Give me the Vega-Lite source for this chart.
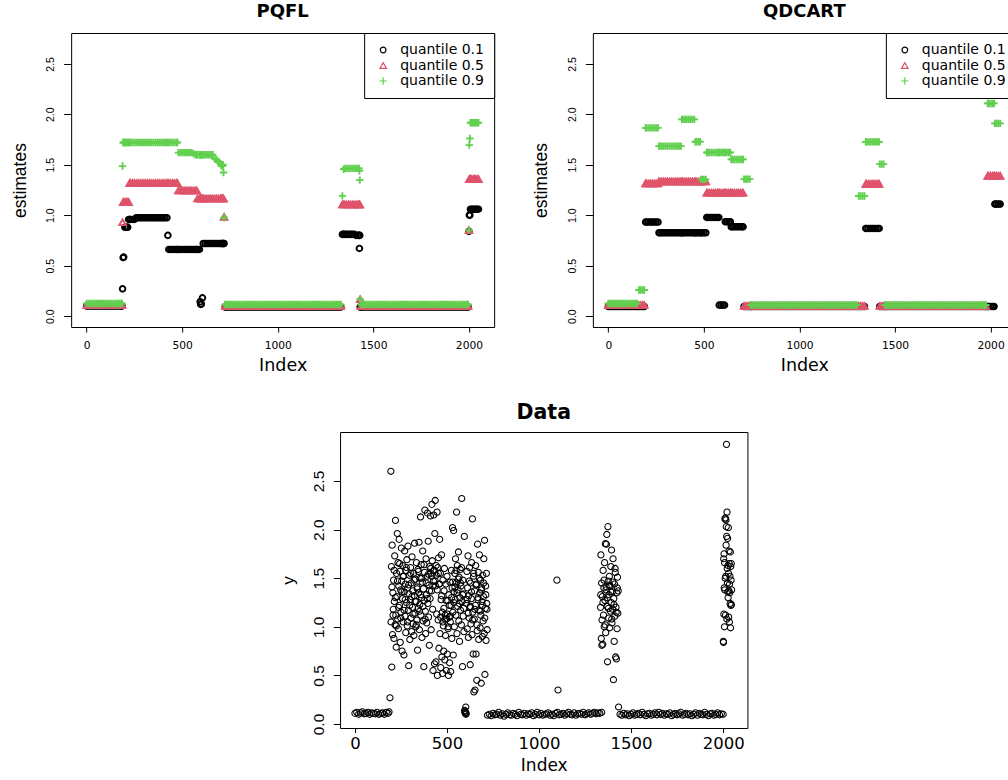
{
"$schema":"https://vega.github.io/schema/vega-lite/v6.json",
"background":"white",
"padding":{"left":10,"top":2,"right":-7,"bottom":0},
"config":{"view":{"stroke":"black","strokeWidth":1},"axis":{"domain":false,"grid":false,"tickColor":"black","labelColor":"black","titleColor":"black","titleFontWeight":"normal","labelFlush":false,"labelOverlap":false,"labelBound":false,"tickWidth":1}},
"datasets":{
"P":[{"x":0,"a":0.1,"b":0.11,"c":0.125},{"x":10,"a":0.1,"b":0.11,"c":0.125},{"x":20,"a":0.1,"b":0.11,"c":0.125},{"x":30,"a":0.1,"b":0.11,"c":0.125},{"x":40,"a":0.1,"b":0.11,"c":0.125},{"x":50,"a":0.1,"b":0.11,"c":0.125},{"x":60,"a":0.1,"b":0.11,"c":0.125},{"x":70,"a":0.1,"b":0.11,"c":0.125},{"x":80,"a":0.1,"b":0.11,"c":0.125},{"x":90,"a":0.1,"b":0.11,"c":0.125},{"x":100,"a":0.1,"b":0.11,"c":0.125},{"x":110,"a":0.1,"b":0.11,"c":0.125},{"x":120,"a":0.1,"b":0.11,"c":0.125},{"x":130,"a":0.1,"b":0.11,"c":0.125},{"x":140,"a":0.1,"b":0.11,"c":0.125},{"x":150,"a":0.1,"b":0.11,"c":0.125},{"x":160,"a":0.1,"b":0.11,"c":0.125},{"x":170,"a":0.1,"b":0.11,"c":0.125},{"x":180,"a":0.1,"b":0.11,"c":0.125},{"x":185,"a":0.1,"b":0.11,"c":0.125},
{"x":188,"a":0.27,"b":0.93,"c":1.487},{"x":191,"a":0.58,"b":1.13,"c":1.72},{"x":194,"a":0.585,"b":1.13,"c":1.72},{"x":200,"a":0.88,"b":1.13,"c":1.72},{"x":205,"a":0.88,"b":1.13,"c":1.72},{"x":210,"a":0.88,"b":1.13,"c":1.72},{"x":215,"a":0.88,"b":1.13,"c":1.72},{"x":220,"a":0.958,"b":1.13,"c":1.72},{"x":225,"a":0.958,"b":1.318,"c":1.72},{"x":230,"a":0.958,"b":1.318,"c":1.72},{"x":240,"a":0.958,"b":1.318,"c":1.72},{"x":250,"a":0.958,"b":1.318,"c":1.72},
{"x":260,"a":0.975,"b":1.318,"c":1.72},{"x":270,"a":0.975,"b":1.318,"c":1.72},{"x":280,"a":0.975,"b":1.318,"c":1.72},{"x":290,"a":0.975,"b":1.318,"c":1.72},{"x":300,"a":0.975,"b":1.318,"c":1.72},{"x":310,"a":0.975,"b":1.318,"c":1.72},{"x":320,"a":0.975,"b":1.318,"c":1.72},{"x":330,"a":0.975,"b":1.318,"c":1.72},{"x":340,"a":0.975,"b":1.318,"c":1.72},{"x":350,"a":0.975,"b":1.318,"c":1.72},{"x":360,"a":0.975,"b":1.318,"c":1.72},{"x":370,"a":0.975,"b":1.318,"c":1.72},{"x":380,"a":0.975,"b":1.318,"c":1.72},{"x":390,"a":0.975,"b":1.318,"c":1.72},{"x":400,"a":0.975,"b":1.318,"c":1.72},{"x":410,"a":0.975,"b":1.318,"c":1.72},{"x":420,"a":0.975,"b":1.318,"c":1.72},
{"x":425,"a":0.8,"b":1.318,"c":1.72},{"x":430,"a":0.661,"b":1.318,"c":1.72},{"x":440,"a":0.661,"b":1.318,"c":1.72},{"x":450,"a":0.661,"b":1.318,"c":1.72},{"x":460,"a":0.661,"b":1.318,"c":1.72},{"x":470,"a":0.661,"b":1.318,"c":1.72},{"x":475,"a":0.661,"b":1.318,"c":1.72},
{"x":480,"a":0.661,"b":1.245,"c":1.62},{"x":490,"a":0.661,"b":1.245,"c":1.62},{"x":500,"a":0.661,"b":1.245,"c":1.62},{"x":510,"a":0.661,"b":1.245,"c":1.62},{"x":520,"a":0.661,"b":1.245,"c":1.62},{"x":530,"a":0.661,"b":1.245,"c":1.62},{"x":540,"a":0.661,"b":1.245,"c":1.62},{"x":550,"a":0.661,"b":1.245,"c":1.62},{"x":560,"a":0.661,"b":1.245,"c":1.61},{"x":570,"a":0.661,"b":1.245,"c":1.6},{"x":576,"a":0.661,"b":1.245,"c":1.6},{"x":580,"a":0.661,"b":1.166,"c":1.6},{"x":590,"a":0.661,"b":1.166,"c":1.6},
{"x":594,"a":0.142,"b":1.166,"c":1.6},{"x":597,"a":0.116,"b":1.166,"c":1.6},{"x":600,"a":0.12,"b":1.166,"c":1.6},{"x":606,"a":0.181,"b":1.166,"c":1.6},
{"x":610,"a":0.72,"b":1.166,"c":1.6},{"x":620,"a":0.72,"b":1.166,"c":1.6},{"x":630,"a":0.72,"b":1.166,"c":1.6},{"x":640,"a":0.72,"b":1.166,"c":1.6},{"x":650,"a":0.72,"b":1.166,"c":1.6},{"x":660,"a":0.72,"b":1.166,"c":1.6},{"x":670,"a":0.72,"b":1.166,"c":1.56},{"x":680,"a":0.72,"b":1.166,"c":1.55},{"x":690,"a":0.72,"b":1.166,"c":1.53},{"x":700,"a":0.72,"b":1.166,"c":1.51},{"x":705,"a":0.72,"b":1.166,"c":1.49},{"x":710,"a":0.72,"b":1.166,"c":1.487},{"x":714,"a":0.72,"b":1.166,"c":1.5},{"x":716,"a":0.72,"b":1.166,"c":1.424},{"x":719,"a":0.72,"b":0.984,"c":0.975},
{"x":725,"a":0.09,"b":0.1,"c":0.115},{"x":730,"a":0.09,"b":0.1,"c":0.115},{"x":740,"a":0.09,"b":0.1,"c":0.115},{"x":750,"a":0.09,"b":0.1,"c":0.115},{"x":760,"a":0.09,"b":0.1,"c":0.115},{"x":770,"a":0.09,"b":0.1,"c":0.115},{"x":780,"a":0.09,"b":0.1,"c":0.115},{"x":790,"a":0.09,"b":0.1,"c":0.115},{"x":800,"a":0.09,"b":0.1,"c":0.115},{"x":810,"a":0.09,"b":0.1,"c":0.115},{"x":820,"a":0.09,"b":0.1,"c":0.115},{"x":830,"a":0.09,"b":0.1,"c":0.115},{"x":840,"a":0.09,"b":0.1,"c":0.115},{"x":850,"a":0.09,"b":0.1,"c":0.115},{"x":860,"a":0.09,"b":0.1,"c":0.115},{"x":870,"a":0.09,"b":0.1,"c":0.115},{"x":880,"a":0.09,"b":0.1,"c":0.115},{"x":890,"a":0.09,"b":0.1,"c":0.115},{"x":900,"a":0.09,"b":0.1,"c":0.115},{"x":910,"a":0.09,"b":0.1,"c":0.115},{"x":920,"a":0.09,"b":0.1,"c":0.115},{"x":930,"a":0.09,"b":0.1,"c":0.115},{"x":940,"a":0.09,"b":0.1,"c":0.115},{"x":950,"a":0.09,"b":0.1,"c":0.115},{"x":960,"a":0.09,"b":0.1,"c":0.115},{"x":970,"a":0.09,"b":0.1,"c":0.115},{"x":980,"a":0.09,"b":0.1,"c":0.115},{"x":990,"a":0.09,"b":0.1,"c":0.115},{"x":1000,"a":0.09,"b":0.1,"c":0.115},{"x":1010,"a":0.09,"b":0.1,"c":0.115},{"x":1020,"a":0.09,"b":0.1,"c":0.115},{"x":1030,"a":0.09,"b":0.1,"c":0.115},{"x":1040,"a":0.09,"b":0.1,"c":0.115},{"x":1050,"a":0.09,"b":0.1,"c":0.115},{"x":1060,"a":0.09,"b":0.1,"c":0.115},{"x":1070,"a":0.09,"b":0.1,"c":0.115},{"x":1080,"a":0.09,"b":0.1,"c":0.115},{"x":1090,"a":0.09,"b":0.1,"c":0.115},{"x":1100,"a":0.09,"b":0.1,"c":0.115},{"x":1110,"a":0.09,"b":0.1,"c":0.115},{"x":1120,"a":0.09,"b":0.1,"c":0.115},{"x":1130,"a":0.09,"b":0.1,"c":0.115},{"x":1140,"a":0.09,"b":0.1,"c":0.115},{"x":1150,"a":0.09,"b":0.1,"c":0.115},{"x":1160,"a":0.09,"b":0.1,"c":0.115},{"x":1170,"a":0.09,"b":0.1,"c":0.115},{"x":1180,"a":0.09,"b":0.1,"c":0.115},{"x":1190,"a":0.09,"b":0.1,"c":0.115},{"x":1200,"a":0.09,"b":0.1,"c":0.115},{"x":1210,"a":0.09,"b":0.1,"c":0.115},{"x":1220,"a":0.09,"b":0.1,"c":0.115},{"x":1230,"a":0.09,"b":0.1,"c":0.115},{"x":1240,"a":0.09,"b":0.1,"c":0.115},{"x":1250,"a":0.09,"b":0.1,"c":0.115},{"x":1260,"a":0.09,"b":0.1,"c":0.115},{"x":1270,"a":0.09,"b":0.1,"c":0.115},{"x":1280,"a":0.09,"b":0.1,"c":0.115},{"x":1290,"a":0.09,"b":0.1,"c":0.115},{"x":1300,"a":0.09,"b":0.1,"c":0.115},{"x":1310,"a":0.09,"b":0.1,"c":0.115},{"x":1320,"a":0.09,"b":0.1,"c":0.115},{"x":1330,"a":0.09,"b":0.1,"c":0.115},
{"x":1338,"a":0.81,"b":1.107,"c":1.192},{"x":1345,"a":0.81,"b":1.107,"c":1.455},{"x":1350,"a":0.81,"b":1.107,"c":1.464},{"x":1360,"a":0.81,"b":1.107,"c":1.464},{"x":1370,"a":0.81,"b":1.107,"c":1.464},{"x":1380,"a":0.81,"b":1.107,"c":1.464},{"x":1390,"a":0.81,"b":1.107,"c":1.464},{"x":1400,"a":0.81,"b":1.107,"c":1.464},{"x":1410,"a":0.8,"b":1.107,"c":1.464},{"x":1420,"a":0.8,"b":1.107,"c":1.464},{"x":1425,"a":0.8,"b":1.107,"c":1.464},{"x":1427,"a":0.671,"b":1.107,"c":1.44},{"x":1429,"a":0.8,"b":1.107,"c":1.348},{"x":1431,"a":0.09,"b":0.168,"c":0.168},
{"x":1436,"a":0.09,"b":0.1,"c":0.115},{"x":1440,"a":0.09,"b":0.1,"c":0.115},{"x":1450,"a":0.09,"b":0.1,"c":0.115},{"x":1460,"a":0.09,"b":0.1,"c":0.115},{"x":1470,"a":0.09,"b":0.1,"c":0.115},{"x":1480,"a":0.09,"b":0.1,"c":0.115},{"x":1490,"a":0.09,"b":0.1,"c":0.115},{"x":1500,"a":0.09,"b":0.1,"c":0.115},{"x":1510,"a":0.09,"b":0.1,"c":0.115},{"x":1520,"a":0.09,"b":0.1,"c":0.115},{"x":1530,"a":0.09,"b":0.1,"c":0.115},{"x":1540,"a":0.09,"b":0.1,"c":0.115},{"x":1550,"a":0.09,"b":0.1,"c":0.115},{"x":1560,"a":0.09,"b":0.1,"c":0.115},{"x":1570,"a":0.09,"b":0.1,"c":0.115},{"x":1580,"a":0.09,"b":0.1,"c":0.115},{"x":1590,"a":0.09,"b":0.1,"c":0.115},{"x":1600,"a":0.09,"b":0.1,"c":0.115},{"x":1610,"a":0.09,"b":0.1,"c":0.115},{"x":1620,"a":0.09,"b":0.1,"c":0.115},{"x":1630,"a":0.09,"b":0.1,"c":0.115},{"x":1640,"a":0.09,"b":0.1,"c":0.115},{"x":1650,"a":0.09,"b":0.1,"c":0.115},{"x":1660,"a":0.09,"b":0.1,"c":0.115},{"x":1670,"a":0.09,"b":0.1,"c":0.115},{"x":1680,"a":0.09,"b":0.1,"c":0.115},{"x":1690,"a":0.09,"b":0.1,"c":0.115},{"x":1700,"a":0.09,"b":0.1,"c":0.115},{"x":1710,"a":0.09,"b":0.1,"c":0.115},{"x":1720,"a":0.09,"b":0.1,"c":0.115},{"x":1730,"a":0.09,"b":0.1,"c":0.115},{"x":1740,"a":0.09,"b":0.1,"c":0.115},{"x":1750,"a":0.09,"b":0.1,"c":0.115},{"x":1760,"a":0.09,"b":0.1,"c":0.115},{"x":1770,"a":0.09,"b":0.1,"c":0.115},{"x":1780,"a":0.09,"b":0.1,"c":0.115},{"x":1790,"a":0.09,"b":0.1,"c":0.115},{"x":1800,"a":0.09,"b":0.1,"c":0.115},{"x":1810,"a":0.09,"b":0.1,"c":0.115},{"x":1820,"a":0.09,"b":0.1,"c":0.115},{"x":1830,"a":0.09,"b":0.1,"c":0.115},{"x":1840,"a":0.09,"b":0.1,"c":0.115},{"x":1850,"a":0.09,"b":0.1,"c":0.115},{"x":1860,"a":0.09,"b":0.1,"c":0.115},{"x":1870,"a":0.09,"b":0.1,"c":0.115},{"x":1880,"a":0.09,"b":0.1,"c":0.115},{"x":1890,"a":0.09,"b":0.1,"c":0.115},{"x":1900,"a":0.09,"b":0.1,"c":0.115},{"x":1910,"a":0.09,"b":0.1,"c":0.115},{"x":1920,"a":0.09,"b":0.1,"c":0.115},{"x":1930,"a":0.09,"b":0.1,"c":0.115},{"x":1940,"a":0.09,"b":0.1,"c":0.115},{"x":1950,"a":0.09,"b":0.1,"c":0.115},{"x":1960,"a":0.09,"b":0.1,"c":0.115},{"x":1970,"a":0.09,"b":0.1,"c":0.115},{"x":1980,"a":0.09,"b":0.1,"c":0.115},{"x":1990,"a":0.09,"b":0.1,"c":0.115},{"x":1996,"a":0.09,"b":0.1,"c":0.115},
{"x":2000,"a":0.84,"b":0.852,"c":0.852},{"x":2002,"a":1.001,"b":1.358,"c":1.695},{"x":2005,"a":1.001,"b":1.358,"c":1.761},{"x":2008,"a":1.06,"b":1.358,"c":1.916},{"x":2015,"a":1.06,"b":1.358,"c":1.916},{"x":2022,"a":1.06,"b":1.358,"c":1.916},{"x":2029,"a":1.06,"b":1.358,"c":1.916},{"x":2036,"a":1.06,"b":1.358,"c":1.916},{"x":2043,"a":1.06,"b":1.358,"c":1.916},{"x":2050,"a":1.06,"b":1.358,"c":1.916}],
"Q":[{"x":0,"a":0.095,"b":0.11,"c":0.125},{"x":10,"a":0.095,"b":0.11,"c":0.125},{"x":20,"a":0.095,"b":0.11,"c":0.125},{"x":30,"a":0.095,"b":0.11,"c":0.125},{"x":40,"a":0.095,"b":0.11,"c":0.125},{"x":50,"a":0.095,"b":0.11,"c":0.125},{"x":60,"a":0.095,"b":0.11,"c":0.125},{"x":70,"a":0.095,"b":0.11,"c":0.125},{"x":80,"a":0.095,"b":0.11,"c":0.125},{"x":90,"a":0.095,"b":0.11,"c":0.125},{"x":100,"a":0.095,"b":0.11,"c":0.125},{"x":110,"a":0.095,"b":0.11,"c":0.125},{"x":120,"a":0.095,"b":0.11,"c":0.125},{"x":130,"a":0.095,"b":0.11,"c":0.125},{"x":140,"a":0.095,"b":0.11,"c":0.125},{"x":150,"a":0.095,"b":0.11,"c":0.125},
{"x":160,"a":0.095,"b":0.11,"c":0.258},{"x":170,"a":0.095,"b":0.11,"c":0.258},{"x":180,"a":0.095,"b":0.11,"c":0.258},{"x":188,"a":0.095,"b":0.11,"c":0.258},
{"x":195,"a":0.932,"b":1.315,"c":1.866},{"x":200,"a":0.932,"b":1.315,"c":1.866},{"x":210,"a":0.932,"b":1.315,"c":1.866},{"x":220,"a":0.932,"b":1.315,"c":1.866},{"x":230,"a":0.932,"b":1.315,"c":1.866},{"x":240,"a":0.932,"b":1.315,"c":1.866},{"x":250,"a":0.932,"b":1.315,"c":1.866},{"x":260,"a":0.932,"b":1.315,"c":1.866},
{"x":265,"a":0.826,"b":1.335,"c":1.685},{"x":270,"a":0.826,"b":1.335,"c":1.685},{"x":280,"a":0.826,"b":1.335,"c":1.685},{"x":290,"a":0.826,"b":1.335,"c":1.685},{"x":300,"a":0.826,"b":1.335,"c":1.685},{"x":310,"a":0.826,"b":1.335,"c":1.685},{"x":320,"a":0.826,"b":1.335,"c":1.685},{"x":330,"a":0.826,"b":1.335,"c":1.685},{"x":340,"a":0.826,"b":1.335,"c":1.685},{"x":350,"a":0.826,"b":1.335,"c":1.685},{"x":360,"a":0.826,"b":1.335,"c":1.685},{"x":370,"a":0.826,"b":1.335,"c":1.685},{"x":380,"a":0.826,"b":1.335,"c":1.685},
{"x":385,"a":0.826,"b":1.335,"c":1.95},{"x":390,"a":0.826,"b":1.335,"c":1.95},{"x":400,"a":0.826,"b":1.335,"c":1.95},{"x":410,"a":0.826,"b":1.335,"c":1.95},{"x":420,"a":0.826,"b":1.335,"c":1.95},{"x":430,"a":0.826,"b":1.335,"c":1.95},{"x":440,"a":0.826,"b":1.335,"c":1.95},{"x":450,"a":0.826,"b":1.335,"c":1.95},
{"x":455,"a":0.826,"b":1.335,"c":1.728},{"x":460,"a":0.826,"b":1.335,"c":1.728},{"x":470,"a":0.826,"b":1.335,"c":1.728},{"x":480,"a":0.826,"b":1.335,"c":1.728},
{"x":485,"a":0.826,"b":1.335,"c":1.355},{"x":490,"a":0.826,"b":1.335,"c":1.355},{"x":500,"a":0.826,"b":1.335,"c":1.355},{"x":510,"a":0.826,"b":1.335,"c":1.355},
{"x":515,"a":0.978,"b":1.222,"c":1.622},{"x":520,"a":0.978,"b":1.222,"c":1.622},{"x":530,"a":0.978,"b":1.222,"c":1.622},{"x":540,"a":0.978,"b":1.222,"c":1.622},{"x":550,"a":0.978,"b":1.222,"c":1.622},{"x":560,"a":0.978,"b":1.222,"c":1.622},{"x":570,"a":0.978,"b":1.222,"c":1.622},{"x":578,"a":0.978,"b":1.222,"c":1.622},
{"x":580,"a":0.109,"b":1.222,"c":1.622},{"x":590,"a":0.109,"b":1.222,"c":1.622},{"x":600,"a":0.109,"b":1.222,"c":1.622},{"x":608,"a":0.109,"b":1.222,"c":1.622},
{"x":612,"a":0.935,"b":1.222,"c":1.622},{"x":620,"a":0.935,"b":1.222,"c":1.622},{"x":630,"a":0.935,"b":1.222,"c":1.622},{"x":638,"a":0.935,"b":1.222,"c":1.622},
{"x":643,"a":0.885,"b":1.222,"c":1.553},{"x":650,"a":0.885,"b":1.222,"c":1.553},{"x":660,"a":0.885,"b":1.222,"c":1.553},{"x":670,"a":0.885,"b":1.222,"c":1.553},{"x":680,"a":0.885,"b":1.222,"c":1.553},{"x":690,"a":0.885,"b":1.222,"c":1.553},{"x":700,"a":0.885,"b":1.222,"c":1.553},{"x":705,"a":0.885,"b":1.222,"c":1.553},
{"x":710,"a":0.095,"b":0.1,"c":1.358},{"x":720,"a":0.095,"b":0.1,"c":1.358},{"x":730,"a":0.095,"b":0.1,"c":1.358},{"x":740,"a":0.095,"b":0.1,"c":1.358},
{"x":745,"a":0.095,"b":0.1,"c":0.11},{"x":750,"a":0.095,"b":0.1,"c":0.11},{"x":760,"a":0.095,"b":0.1,"c":0.11},{"x":770,"a":0.095,"b":0.1,"c":0.11},{"x":780,"a":0.095,"b":0.1,"c":0.11},{"x":790,"a":0.095,"b":0.1,"c":0.11},{"x":800,"a":0.095,"b":0.1,"c":0.11},{"x":810,"a":0.095,"b":0.1,"c":0.11},{"x":820,"a":0.095,"b":0.1,"c":0.11},{"x":830,"a":0.095,"b":0.1,"c":0.11},{"x":840,"a":0.095,"b":0.1,"c":0.11},{"x":850,"a":0.095,"b":0.1,"c":0.11},{"x":860,"a":0.095,"b":0.1,"c":0.11},{"x":870,"a":0.095,"b":0.1,"c":0.11},{"x":880,"a":0.095,"b":0.1,"c":0.11},{"x":890,"a":0.095,"b":0.1,"c":0.11},{"x":900,"a":0.095,"b":0.1,"c":0.11},{"x":910,"a":0.095,"b":0.1,"c":0.11},{"x":920,"a":0.095,"b":0.1,"c":0.11},{"x":930,"a":0.095,"b":0.1,"c":0.11},{"x":940,"a":0.095,"b":0.1,"c":0.11},{"x":950,"a":0.095,"b":0.1,"c":0.11},{"x":960,"a":0.095,"b":0.1,"c":0.11},{"x":970,"a":0.095,"b":0.1,"c":0.11},{"x":980,"a":0.095,"b":0.1,"c":0.11},{"x":990,"a":0.095,"b":0.1,"c":0.11},{"x":1000,"a":0.095,"b":0.1,"c":0.11},{"x":1010,"a":0.095,"b":0.1,"c":0.11},{"x":1020,"a":0.095,"b":0.1,"c":0.11},{"x":1030,"a":0.095,"b":0.1,"c":0.11},{"x":1040,"a":0.095,"b":0.1,"c":0.11},{"x":1050,"a":0.095,"b":0.1,"c":0.11},{"x":1060,"a":0.095,"b":0.1,"c":0.11},{"x":1070,"a":0.095,"b":0.1,"c":0.11},{"x":1080,"a":0.095,"b":0.1,"c":0.11},{"x":1090,"a":0.095,"b":0.1,"c":0.11},{"x":1100,"a":0.095,"b":0.1,"c":0.11},{"x":1110,"a":0.095,"b":0.1,"c":0.11},{"x":1120,"a":0.095,"b":0.1,"c":0.11},{"x":1130,"a":0.095,"b":0.1,"c":0.11},{"x":1140,"a":0.095,"b":0.1,"c":0.11},{"x":1150,"a":0.095,"b":0.1,"c":0.11},{"x":1160,"a":0.095,"b":0.1,"c":0.11},{"x":1170,"a":0.095,"b":0.1,"c":0.11},{"x":1180,"a":0.095,"b":0.1,"c":0.11},{"x":1190,"a":0.095,"b":0.1,"c":0.11},{"x":1200,"a":0.095,"b":0.1,"c":0.11},{"x":1210,"a":0.095,"b":0.1,"c":0.11},{"x":1220,"a":0.095,"b":0.1,"c":0.11},{"x":1230,"a":0.095,"b":0.1,"c":0.11},{"x":1240,"a":0.095,"b":0.1,"c":0.11},{"x":1250,"a":0.095,"b":0.1,"c":0.11},{"x":1260,"a":0.095,"b":0.1,"c":0.11},{"x":1270,"a":0.095,"b":0.1,"c":0.11},{"x":1280,"a":0.095,"b":0.1,"c":0.11},{"x":1290,"a":0.095,"b":0.1,"c":0.11},{"x":1300,"a":0.095,"b":0.1,"c":0.11},
{"x":1310,"a":0.095,"b":0.1,"c":1.19},{"x":1320,"a":0.095,"b":0.1,"c":1.19},{"x":1330,"a":0.095,"b":0.1,"c":1.19},{"x":1340,"a":0.095,"b":0.1,"c":1.19},
{"x":1347,"a":0.869,"b":1.311,"c":1.727},{"x":1350,"a":0.869,"b":1.311,"c":1.727},{"x":1360,"a":0.869,"b":1.311,"c":1.727},{"x":1370,"a":0.869,"b":1.311,"c":1.727},{"x":1380,"a":0.869,"b":1.311,"c":1.727},{"x":1390,"a":0.869,"b":1.311,"c":1.727},{"x":1400,"a":0.869,"b":1.311,"c":1.727},{"x":1410,"a":0.869,"b":1.311,"c":1.727},{"x":1417,"a":0.869,"b":1.311,"c":1.727},
{"x":1420,"a":0.095,"b":0.1,"c":1.506},{"x":1430,"a":0.095,"b":0.1,"c":1.506},{"x":1440,"a":0.095,"b":0.1,"c":1.506},
{"x":1448,"a":0.095,"b":0.1,"c":0.11},{"x":1450,"a":0.095,"b":0.1,"c":0.11},{"x":1460,"a":0.095,"b":0.1,"c":0.11},{"x":1470,"a":0.095,"b":0.1,"c":0.11},{"x":1480,"a":0.095,"b":0.1,"c":0.11},{"x":1490,"a":0.095,"b":0.1,"c":0.11},{"x":1500,"a":0.095,"b":0.1,"c":0.11},{"x":1510,"a":0.095,"b":0.1,"c":0.11},{"x":1520,"a":0.095,"b":0.1,"c":0.11},{"x":1530,"a":0.095,"b":0.1,"c":0.11},{"x":1540,"a":0.095,"b":0.1,"c":0.11},{"x":1550,"a":0.095,"b":0.1,"c":0.11},{"x":1560,"a":0.095,"b":0.1,"c":0.11},{"x":1570,"a":0.095,"b":0.1,"c":0.11},{"x":1580,"a":0.095,"b":0.1,"c":0.11},{"x":1590,"a":0.095,"b":0.1,"c":0.11},{"x":1600,"a":0.095,"b":0.1,"c":0.11},{"x":1610,"a":0.095,"b":0.1,"c":0.11},{"x":1620,"a":0.095,"b":0.1,"c":0.11},{"x":1630,"a":0.095,"b":0.1,"c":0.11},{"x":1640,"a":0.095,"b":0.1,"c":0.11},{"x":1650,"a":0.095,"b":0.1,"c":0.11},{"x":1660,"a":0.095,"b":0.1,"c":0.11},{"x":1670,"a":0.095,"b":0.1,"c":0.11},{"x":1680,"a":0.095,"b":0.1,"c":0.11},{"x":1690,"a":0.095,"b":0.1,"c":0.11},{"x":1700,"a":0.095,"b":0.1,"c":0.11},{"x":1710,"a":0.095,"b":0.1,"c":0.11},{"x":1720,"a":0.095,"b":0.1,"c":0.11},{"x":1730,"a":0.095,"b":0.1,"c":0.11},{"x":1740,"a":0.095,"b":0.1,"c":0.11},{"x":1750,"a":0.095,"b":0.1,"c":0.11},{"x":1760,"a":0.095,"b":0.1,"c":0.11},{"x":1770,"a":0.095,"b":0.1,"c":0.11},{"x":1780,"a":0.095,"b":0.1,"c":0.11},{"x":1790,"a":0.095,"b":0.1,"c":0.11},{"x":1800,"a":0.095,"b":0.1,"c":0.11},{"x":1810,"a":0.095,"b":0.1,"c":0.11},{"x":1820,"a":0.095,"b":0.1,"c":0.11},{"x":1830,"a":0.095,"b":0.1,"c":0.11},{"x":1840,"a":0.095,"b":0.1,"c":0.11},{"x":1850,"a":0.095,"b":0.1,"c":0.11},{"x":1860,"a":0.095,"b":0.1,"c":0.11},{"x":1870,"a":0.095,"b":0.1,"c":0.11},{"x":1880,"a":0.095,"b":0.1,"c":0.11},{"x":1890,"a":0.095,"b":0.1,"c":0.11},{"x":1900,"a":0.095,"b":0.1,"c":0.11},{"x":1910,"a":0.095,"b":0.1,"c":0.11},{"x":1920,"a":0.095,"b":0.1,"c":0.11},{"x":1930,"a":0.095,"b":0.1,"c":0.11},{"x":1940,"a":0.095,"b":0.1,"c":0.11},{"x":1950,"a":0.095,"b":0.1,"c":0.11},{"x":1960,"a":0.095,"b":0.1,"c":0.11},{"x":1970,"a":0.095,"b":0.1,"c":0.11},{"x":1975,"a":0.095,"b":0.1,"c":0.11},
{"x":1985,"a":0.095,"b":1.39,"c":2.108},{"x":1990,"a":0.095,"b":1.39,"c":2.108},{"x":2000,"a":0.095,"b":1.39,"c":2.108},{"x":2010,"a":0.095,"b":1.39,"c":2.108},{"x":2018,"a":0.095,"b":1.39,"c":2.108},
{"x":2022,"a":1.11,"b":1.39,"c":1.91},{"x":2030,"a":1.11,"b":1.39,"c":1.91},{"x":2040,"a":1.11,"b":1.39,"c":1.91},{"x":2050,"a":1.11,"b":1.39,"c":1.91}],
"D":[{"x":0,"y":0.11},{"x":10,"y":0.12},{"x":20,"y":0.1},{"x":30,"y":0.115},{"x":40,"y":0.125},{"x":50,"y":0.105},{"x":60,"y":0.11},{"x":70,"y":0.12},{"x":80,"y":0.1},{"x":90,"y":0.115},{"x":100,"y":0.11},{"x":110,"y":0.105},{"x":120,"y":0.12},{"x":130,"y":0.1},{"x":140,"y":0.11},{"x":150,"y":0.115},{"x":160,"y":0.1},{"x":170,"y":0.12},{"x":180,"y":0.11},{"x":185,"y":0.125},{"x":190,"y":0.27},{"x":195,"y":2.6},
{"x":196,"y":1.05},{"x":198,"y":1.62},{"x":200,"y":0.586},{"x":201,"y":1.41},{"x":202,"y":1.84},{"x":204,"y":0.92},{"x":206,"y":1.35},{"x":207,"y":1.12},{"x":208,"y":1.18},{"x":210,"y":1.48},{"x":212,"y":0.88},{"x":213,"y":1.58},{"x":214,"y":1.26},{"x":216,"y":1.73},{"x":218,"y":1.02},{"x":219,"y":1.3},{"x":220,"y":2.095},{"x":222,"y":1.12},{"x":224,"y":0.79},{"x":225,"y":1.01},{"x":226,"y":1.55},{"x":228,"y":1.31},{"x":230,"y":1.96},{"x":231,"y":1.47},{"x":232,"y":1.08},{"x":234,"y":1.66},{"x":236,"y":0.98},{"x":237,"y":1.2},{"x":238,"y":1.42},{"x":240,"y":1.9},{"x":242,"y":1.22},{"x":243,"y":1.65},{"x":244,"y":1.57},{"x":246,"y":0.84},{"x":248,"y":1.38},{"x":249,"y":1.09},{"x":250,"y":1.15},{"x":252,"y":1.81},{"x":254,"y":1.47},{"x":255,"y":1.36},{"x":256,"y":0.75},{"x":258,"y":1.29},{"x":260,"y":1.63},{"x":261,"y":1.52},{"x":262,"y":1.05},{"x":264,"y":1.52},{"x":266,"y":0.71},{"x":267,"y":1.17},{"x":268,"y":1.36},{"x":270,"y":1.78},{"x":272,"y":1.11},{"x":273,"y":1.28},{"x":274,"y":1.44},{"x":276,"y":0.94},{"x":278,"y":1.58},{"x":279,"y":1.61},{"x":280,"y":1.25},{"x":282,"y":1.69},{"x":284,"y":1.01},{"x":285,"y":1.05},{"x":286,"y":1.4},{"x":288,"y":1.83},{"x":290,"y":1.17},{"x":291,"y":1.43},{"x":292,"y":0.6},{"x":294,"y":1.34},{"x":296,"y":1.53},{"x":297,"y":1.22},{"x":298,"y":0.87},{"x":300,"y":1.28},{"x":302,"y":1.61},{"x":303,"y":1.55},{"x":304,"y":1.09},{"x":306,"y":1.45},{"x":308,"y":0.95},{"x":309,"y":1.31},{"x":310,"y":1.72},{"x":312,"y":1.2},{"x":314,"y":1.37},{"x":315,"y":1.13},{"x":316,"y":1.03},{"x":318,"y":1.55},{"x":320,"y":0.91},{"x":321,"y":1.48},{"x":322,"y":1.32},{"x":324,"y":1.86},{"x":326,"y":1.14},{"x":327,"y":1.26},{"x":328,"y":1.49},{"x":330,"y":1.0},{"x":332,"y":1.26},{"x":333,"y":1.02},{"x":334,"y":1.66},{"x":336,"y":1.07},{"x":338,"y":1.41},{"x":339,"y":1.39},{"x":340,"y":0.76},{"x":342,"y":1.59},{"x":344,"y":1.19},{"x":345,"y":1.57},{"x":346,"y":1.35},{"x":348,"y":1.87},{"x":350,"y":0.97},{"x":351,"y":1.16},{"x":352,"y":1.23},{"x":354,"y":1.5},{"x":356,"y":2.13},{"x":357,"y":1.33},{"x":358,"y":1.12},{"x":360,"y":1.64},{"x":362,"y":1.3},{"x":363,"y":1.5},{"x":364,"y":0.89},{"x":366,"y":1.46},{"x":368,"y":1.78},{"x":369,"y":1.21},{"x":370,"y":1.06},{"x":372,"y":1.39},{"x":374,"y":0.59},{"x":375,"y":1.64},{"x":376,"y":1.27},{"x":378,"y":1.56},{"x":380,"y":2.2},{"x":381,"y":1.08},{"x":382,"y":1.16},{"x":384,"y":0.93},{"x":386,"y":1.7},{"x":387,"y":1.45},{"x":388,"y":1.33},{"x":390,"y":1.04},{"x":392,"y":1.52},{"x":393,"y":1.29},{"x":394,"y":2.17},{"x":396,"y":1.24},{"x":398,"y":1.88},{"x":399,"y":1.54},{"x":400,"y":1.1},{"x":402,"y":1.43},{"x":404,"y":0.81},{"x":405,"y":1.37},{"x":406,"y":1.62},{"x":408,"y":1.29},{"x":410,"y":2.14},{"x":411,"y":1.6},{"x":412,"y":1.55},{"x":414,"y":0.97},{"x":416,"y":1.37},{"x":417,"y":1.52},{"x":418,"y":2.26},{"x":420,"y":1.68},{"x":422,"y":1.18},{"x":423,"y":1.42},{"x":424,"y":0.55},{"x":426,"y":1.47},{"x":428,"y":2.15},{"x":429,"y":1.58},{"x":430,"y":1.58},{"x":432,"y":0.62},{"x":434,"y":1.96},{"x":435,"y":1.47},{"x":436,"y":2.3},{"x":438,"y":1.42},{"x":440,"y":0.64},{"x":441,"y":1.63},{"x":442,"y":1.53},{"x":444,"y":1.13},{"x":446,"y":2.18},{"x":447,"y":1.38},{"x":448,"y":0.5},{"x":450,"y":1.61},{"x":452,"y":1.07},{"x":453,"y":1.55},{"x":454,"y":1.71},{"x":456,"y":0.78},{"x":458,"y":1.44},{"x":459,"y":1.44},{"x":460,"y":1.9},{"x":462,"y":0.93},{"x":464,"y":1.55},{"x":465,"y":1.1},{"x":466,"y":0.58},{"x":468,"y":1.28},{"x":470,"y":1.74},{"x":471,"y":1.32},{"x":472,"y":0.69},{"x":474,"y":1.15},{"x":476,"y":0.52},{"x":477,"y":1.05},{"x":478,"y":1.48},{"x":480,"y":1.01},{"x":482,"y":0.75},{"x":483,"y":1.19},{"x":484,"y":1.37},{"x":486,"y":1.6},{"x":488,"y":0.66},{"x":489,"y":1.08},{"x":490,"y":1.12},{"x":492,"y":0.91},{"x":494,"y":1.44},{"x":495,"y":1.27},{"x":496,"y":0.55},{"x":498,"y":1.08},{"x":500,"y":1.52},{"x":501,"y":1.13},{"x":502,"y":0.72},{"x":504,"y":1.27},{"x":506,"y":0.98},{"x":507,"y":1.0},{"x":508,"y":0.5},{"x":510,"y":1.33},{"x":512,"y":1.1},{"x":513,"y":1.22},{"x":514,"y":0.63},{"x":516,"y":1.46},{"x":518,"y":1.05},{"x":519,"y":1.11},{"x":520,"y":0.54},{"x":522,"y":1.22},{"x":524,"y":1.58},{"x":525,"y":1.3},{"x":526,"y":0.88},{"x":528,"y":1.4},{"x":530,"y":2.02},{"x":531,"y":1.46},{"x":532,"y":1.15},{"x":534,"y":0.71},{"x":536,"y":1.99},{"x":537,"y":1.25},{"x":538,"y":1.36},{"x":540,"y":1.0},{"x":542,"y":1.55},{"x":543,"y":1.41},{"x":544,"y":1.28},{"x":546,"y":1.7},{"x":548,"y":1.12},{"x":549,"y":1.58},{"x":550,"y":1.45},{"x":552,"y":2.18},{"x":554,"y":0.93},{"x":555,"y":1.35},{"x":556,"y":1.63},{"x":558,"y":1.21},{"x":560,"y":1.38},{"x":561,"y":1.49},{"x":562,"y":1.77},{"x":564,"y":1.06},{"x":566,"y":1.51},{"x":567,"y":1.24},{"x":568,"y":0.85},{"x":570,"y":1.3},{"x":572,"y":1.59},{"x":573,"y":1.45},{"x":574,"y":1.17},{"x":576,"y":1.42},{"x":578,"y":1.02},{"x":579,"y":1.61},{"x":580,"y":2.32},{"x":582,"y":1.26},{"x":584,"y":0.59},{"x":585,"y":1.33},{"x":586,"y":1.48},{"x":588,"y":1.11},{"x":590,"y":1.34},{"x":591,"y":1.19},{"x":592,"y":0.95},{"x":594,"y":1.93},{"x":596,"y":0.14},{"x":597,"y":0.13},{"x":598,"y":0.115},{"x":600,"y":0.12},{"x":602,"y":0.175},{"x":603,"y":0.1},{"x":604,"y":0.11},{"x":606,"y":1.24},{"x":608,"y":1.57},{"x":609,"y":1.28},{"x":610,"y":0.98},{"x":612,"y":1.4},{"x":614,"y":1.73},{"x":615,"y":1.14},{"x":616,"y":0.89},{"x":618,"y":1.32},{"x":620,"y":1.09},{"x":621,"y":1.47},{"x":622,"y":1.61},{"x":624,"y":1.2},{"x":626,"y":0.61},{"x":627,"y":1.21},{"x":628,"y":1.45},{"x":630,"y":1.03},{"x":632,"y":1.29},{"x":633,"y":1.36},{"x":634,"y":1.66},{"x":636,"y":0.92},{"x":638,"y":2.11},{"x":639,"y":1.07},{"x":640,"y":1.15},{"x":642,"y":0.72},{"x":644,"y":1.52},{"x":645,"y":1.55},{"x":646,"y":0.33},{"x":648,"y":1.08},{"x":650,"y":1.37},{"x":651,"y":1.18},{"x":652,"y":0.35},{"x":654,"y":1.22},{"x":656,"y":1.63},{"x":657,"y":1.43},{"x":658,"y":0.72},{"x":660,"y":1.44},{"x":662,"y":0.45},{"x":663,"y":1.02},{"x":664,"y":0.96},{"x":666,"y":1.85},{"x":668,"y":1.28},{"x":669,"y":1.3},{"x":670,"y":1.56},{"x":672,"y":0.87},{"x":674,"y":1.17},{"x":675,"y":1.5},{"x":676,"y":1.74},{"x":678,"y":1.35},{"x":680,"y":0.99},{"x":681,"y":1.16},{"x":682,"y":1.48},{"x":684,"y":1.12},{"x":686,"y":0.42},{"x":687,"y":1.38},{"x":688,"y":1.4},{"x":690,"y":1.26},{"x":692,"y":0.9},{"x":693,"y":1.22},{"x":694,"y":1.53},{"x":696,"y":1.06},{"x":698,"y":1.31},{"x":699,"y":1.45},{"x":700,"y":1.7},{"x":702,"y":0.93},{"x":704,"y":1.89},{"x":705,"y":1.09},{"x":706,"y":0.51},{"x":708,"y":1.19},{"x":710,"y":1.42},{"x":711,"y":1.33},{"x":712,"y":0.86},{"x":714,"y":1.55},{"x":716,"y":1.24},{"x":717,"y":1.18},{"x":718,"y":0.97},
{"x":720,"y":0.09},{"x":730,"y":0.1},{"x":740,"y":0.085},{"x":750,"y":0.11},{"x":760,"y":0.095},{"x":770,"y":0.1},{"x":780,"y":0.12},{"x":790,"y":0.09},{"x":800,"y":0.105},{"x":810,"y":0.08},{"x":820,"y":0.1},{"x":830,"y":0.115},{"x":840,"y":0.095},{"x":850,"y":0.09},{"x":860,"y":0.11},{"x":870,"y":0.1},{"x":880,"y":0.085},{"x":890,"y":0.12},{"x":900,"y":0.1},{"x":910,"y":0.095},{"x":920,"y":0.11},{"x":930,"y":0.09},{"x":940,"y":0.105},{"x":950,"y":0.1},{"x":960,"y":0.115},{"x":970,"y":0.085},{"x":980,"y":0.1},{"x":990,"y":0.12},{"x":1000,"y":0.095},{"x":1010,"y":0.11},{"x":1020,"y":0.09},{"x":1030,"y":0.1},{"x":1040,"y":0.105},{"x":1050,"y":0.115},{"x":1060,"y":0.09},{"x":1070,"y":0.1},{"x":1080,"y":0.085},{"x":1090,"y":0.11},{"x":1097,"y":1.48},{"x":1100,"y":0.12},{"x":1103,"y":0.35},{"x":1110,"y":0.095},{"x":1120,"y":0.1},{"x":1130,"y":0.11},{"x":1140,"y":0.09},{"x":1150,"y":0.105},{"x":1160,"y":0.12},{"x":1170,"y":0.1},{"x":1180,"y":0.095},{"x":1190,"y":0.115},{"x":1200,"y":0.09},{"x":1210,"y":0.105},{"x":1220,"y":0.11},{"x":1230,"y":0.1},{"x":1240,"y":0.12},{"x":1250,"y":0.095},{"x":1260,"y":0.105},{"x":1270,"y":0.115},{"x":1280,"y":0.1},{"x":1290,"y":0.11},{"x":1300,"y":0.12},{"x":1310,"y":0.105},{"x":1320,"y":0.115},{"x":1330,"y":0.11},{"x":1340,"y":0.12},
{"x":1334,"y":1.2},{"x":1335,"y":1.33},{"x":1336,"y":1.74},{"x":1338,"y":0.88},{"x":1340,"y":1.45},{"x":1341,"y":0.81},{"x":1342,"y":1.07},{"x":1344,"y":1.31},{"x":1346,"y":0.82},{"x":1347,"y":1.25},{"x":1348,"y":1.58},{"x":1350,"y":1.12},{"x":1352,"y":1.4},{"x":1353,"y":1.48},{"x":1354,"y":1.0},{"x":1356,"y":1.66},{"x":1358,"y":1.27},{"x":1359,"y":1.02},{"x":1360,"y":1.855},{"x":1362,"y":0.94},{"x":1364,"y":1.38},{"x":1365,"y":1.41},{"x":1366,"y":1.85},{"x":1368,"y":1.95},{"x":1370,"y":1.21},{"x":1371,"y":1.3},{"x":1372,"y":0.64},{"x":1374,"y":2.03},{"x":1376,"y":1.47},{"x":1377,"y":1.19},{"x":1378,"y":1.09},{"x":1380,"y":1.33},{"x":1382,"y":1.52},{"x":1383,"y":1.43},{"x":1384,"y":0.99},{"x":1386,"y":1.42},{"x":1388,"y":1.16},{"x":1389,"y":1.36},{"x":1390,"y":1.62},{"x":1392,"y":1.25},{"x":1394,"y":1.79},{"x":1395,"y":1.08},{"x":1396,"y":1.04},{"x":1398,"y":1.36},{"x":1400,"y":1.18},{"x":1401,"y":1.46},{"x":1402,"y":1.7},{"x":1404,"y":0.456},{"x":1406,"y":1.29},{"x":1407,"y":1.23},{"x":1408,"y":0.85},{"x":1410,"y":1.44},{"x":1412,"y":1.11},{"x":1413,"y":1.6},{"x":1414,"y":1.56},{"x":1416,"y":0.69},{"x":1418,"y":1.2},{"x":1419,"y":1.15},{"x":1420,"y":0.67},{"x":1422,"y":1.35},{"x":1424,"y":0.98},{"x":1425,"y":1.4},{"x":1426,"y":1.51},{"x":1428,"y":1.14},{"x":1430,"y":1.37},{"x":1432,"y":0.175},
{"x":1440,"y":0.1},{"x":1450,"y":0.09},{"x":1460,"y":0.11},{"x":1470,"y":0.095},{"x":1480,"y":0.105},{"x":1490,"y":0.085},{"x":1500,"y":0.1},{"x":1510,"y":0.115},{"x":1520,"y":0.09},{"x":1530,"y":0.1},{"x":1540,"y":0.11},{"x":1550,"y":0.095},{"x":1560,"y":0.12},{"x":1570,"y":0.1},{"x":1580,"y":0.085},{"x":1590,"y":0.105},{"x":1600,"y":0.11},{"x":1610,"y":0.09},{"x":1620,"y":0.1},{"x":1630,"y":0.115},{"x":1640,"y":0.095},{"x":1650,"y":0.12},{"x":1660,"y":0.1},{"x":1670,"y":0.11},{"x":1680,"y":0.09},{"x":1690,"y":0.105},{"x":1700,"y":0.1},{"x":1710,"y":0.115},{"x":1720,"y":0.085},{"x":1730,"y":0.1},{"x":1740,"y":0.11},{"x":1750,"y":0.095},{"x":1760,"y":0.105},{"x":1770,"y":0.12},{"x":1780,"y":0.09},{"x":1790,"y":0.1},{"x":1800,"y":0.11},{"x":1810,"y":0.095},{"x":1820,"y":0.105},{"x":1830,"y":0.085},{"x":1840,"y":0.1},{"x":1850,"y":0.115},{"x":1860,"y":0.09},{"x":1870,"y":0.11},{"x":1880,"y":0.1},{"x":1890,"y":0.095},{"x":1900,"y":0.12},{"x":1910,"y":0.1},{"x":1920,"y":0.085},{"x":1930,"y":0.105},{"x":1940,"y":0.11},{"x":1950,"y":0.09},{"x":1960,"y":0.1},{"x":1970,"y":0.115},{"x":1980,"y":0.095},{"x":1990,"y":0.105},{"x":2000,"y":0.1},
{"x":2001,"y":0.85},{"x":2002,"y":0.84},{"x":2003,"y":1.7},{"x":2004,"y":1.13},{"x":2005,"y":1.75},{"x":2006,"y":1.4},{"x":2007,"y":1.0},{"x":2008,"y":1.66},{"x":2009,"y":1.38},{"x":2010,"y":2.11},{"x":2011,"y":1.5},{"x":2012,"y":2.12},{"x":2013,"y":1.12},{"x":2014,"y":1.52},{"x":2015,"y":2.1},{"x":2016,"y":1.84},{"x":2017,"y":2.03},{"x":2018,"y":2.877},{"x":2019,"y":1.93},{"x":2020,"y":1.08},{"x":2021,"y":2.18},{"x":2022,"y":1.6},{"x":2023,"y":1.45},{"x":2024,"y":1.91},{"x":2025,"y":1.36},{"x":2026,"y":1.63},{"x":2027,"y":1.3},{"x":2028,"y":2.02},{"x":2029,"y":1.55},{"x":2030,"y":1.1},{"x":2031,"y":1.37},{"x":2032,"y":1.78},{"x":2033,"y":1.65},{"x":2034,"y":1.05},{"x":2035,"y":1.44},{"x":2036,"y":1.35},{"x":2037,"y":1.52},{"x":2038,"y":1.24},{"x":2039,"y":1.77},{"x":2040,"y":0.99},{"x":2041,"y":1.62},{"x":2042,"y":1.22},{"x":2043,"y":1.48},{"x":2044,"y":1.65},{"x":2045,"y":1.23},{"x":2046,"y":1.38}]
},
"vconcat":[
{"hconcat":[
{"width":423,"height":294,
"title":{"text":"PQFL","font":"DejaVu Sans","fontSize":18,"fontWeight":"bold","baseline":"alphabetic","offset":-2,"color":"black","anchor":"middle"},
"data":{"name":"P"},
"transform":[{"fold":["a","b","c"],"as":["q","v"]}],
"mark":{"type":"point","filled":false,"strokeWidth":1.9,"opacity":1},
"encoding":{
"x":{"field":"x","type":"quantitative","scale":{"domain":[-81,2132],"nice":false,"zero":false},"axis":{"title":"Index","values":[0,500,1000,1500,2000],"format":"d","labelFont":"DejaVu Sans","labelFontSize":10.7,"labelBaseline":"alphabetic","labelPadding":16.3,"tickSize":5,"titleFont":"DejaVu Sans","titleFontSize":17.5,"titleBaseline":"alphabetic","titleY":43.7}},
"y":{"field":"v","type":"quantitative","scale":{"domain":[-0.108,2.806],"nice":false,"zero":false},"axis":{"title":"estimates","values":[0,0.5,1,1.5,2,2.5],"format":".1f","labelFont":"Liberation Sans","labelFontSize":10.5,"labelAngle":-90,"labelAlign":"center","labelBaseline":"alphabetic","labelPadding":10.2,"tickSize":7.5,"titleFont":"Liberation Sans","titleFontSize":17.5,"titleAngle":-90,"titleAlign":"center","titleBaseline":"alphabetic","titleX":-46,"titleY":147}},
"color":{"field":"q","type":"nominal","scale":{"domain":["a","b","c"],"range":["#000000","#DF536B","#61D04F"]},"legend":{"title":null,"orient":"top-right","offset":0,"strokeColor":"black","fillColor":"white","padding":10,"symbolOffset":2,"rowPadding":1.5,"labelOffset":10,"symbolSize":90,"symbolStrokeWidth":1.2,"labelFont":"DejaVu Sans","labelFontSize":14,"labelColor":"black","labelLimit":300,"cornerRadius":0,"labelExpr":"datum.value == 'a' ? 'quantile 0.1' : datum.value == 'b' ? 'quantile 0.5' : 'quantile 0.9'"}},
"shape":{"field":"q","type":"nominal","scale":{"domain":["a","b","c"],"range":["circle","triangle-up","M-1,0H1M0,-1V1"]},"legend":{"title":null,"orient":"top-right","offset":0,"strokeColor":"black","fillColor":"white","padding":10,"symbolOffset":2,"rowPadding":1.5,"labelOffset":10,"symbolSize":90,"symbolStrokeWidth":1.2,"labelFont":"DejaVu Sans","labelFontSize":14,"labelColor":"black","labelLimit":300,"cornerRadius":0,"labelExpr":"datum.value == 'a' ? 'quantile 0.1' : datum.value == 'b' ? 'quantile 0.5' : 'quantile 0.9'"}},
"size":{"field":"q","type":"nominal","scale":{"domain":["a","b","c"],"range":[32,55,60]},"legend":null},
"order":{"field":"q","sort":"ascending"}
}},
{"width":423,"height":294,
"title":{"text":"QDCART","font":"DejaVu Sans","fontSize":18,"fontWeight":"bold","baseline":"alphabetic","offset":-2,"color":"black","anchor":"middle"},
"data":{"name":"Q"},
"transform":[{"fold":["a","b","c"],"as":["q","v"]}],
"mark":{"type":"point","filled":false,"strokeWidth":1.9,"opacity":1},
"encoding":{
"x":{"field":"x","type":"quantitative","scale":{"domain":[-81,2132],"nice":false,"zero":false},"axis":{"title":"Index","values":[0,500,1000,1500,2000],"format":"d","labelFont":"DejaVu Sans","labelFontSize":10.7,"labelBaseline":"alphabetic","labelPadding":16.3,"tickSize":5,"titleFont":"DejaVu Sans","titleFontSize":17.5,"titleBaseline":"alphabetic","titleY":43.7}},
"y":{"field":"v","type":"quantitative","scale":{"domain":[-0.108,2.806],"nice":false,"zero":false},"axis":{"title":"estimates","values":[0,0.5,1,1.5,2,2.5],"format":".1f","labelFont":"Liberation Sans","labelFontSize":10.5,"labelAngle":-90,"labelAlign":"center","labelBaseline":"alphabetic","labelPadding":10.2,"tickSize":7.5,"titleFont":"Liberation Sans","titleFontSize":17.5,"titleAngle":-90,"titleAlign":"center","titleBaseline":"alphabetic","titleX":-46,"titleY":147}},
"color":{"field":"q","type":"nominal","scale":{"domain":["a","b","c"],"range":["#000000","#DF536B","#61D04F"]},"legend":{"title":null,"orient":"top-right","offset":0,"strokeColor":"black","fillColor":"white","padding":10,"symbolOffset":2,"rowPadding":1.5,"labelOffset":10,"symbolSize":90,"symbolStrokeWidth":1.2,"labelFont":"DejaVu Sans","labelFontSize":14,"labelColor":"black","labelLimit":300,"cornerRadius":0,"labelExpr":"datum.value == 'a' ? 'quantile 0.1' : datum.value == 'b' ? 'quantile 0.5' : 'quantile 0.9'"}},
"shape":{"field":"q","type":"nominal","scale":{"domain":["a","b","c"],"range":["circle","triangle-up","M-1,0H1M0,-1V1"]},"legend":{"title":null,"orient":"top-right","offset":0,"strokeColor":"black","fillColor":"white","padding":10,"symbolOffset":2,"rowPadding":1.5,"labelOffset":10,"symbolSize":90,"symbolStrokeWidth":1.2,"labelFont":"DejaVu Sans","labelFontSize":14,"labelColor":"black","labelLimit":300,"cornerRadius":0,"labelExpr":"datum.value == 'a' ? 'quantile 0.1' : datum.value == 'b' ? 'quantile 0.5' : 'quantile 0.9'"}},
"size":{"field":"q","type":"nominal","scale":{"domain":["a","b","c"],"range":[32,55,60]},"legend":null},
"order":{"field":"q","sort":"ascending"}
}}
],
"spacing":98.7,"bounds":"flush",
"resolve":{"scale":{"color":"independent","shape":"independent","size":"independent"},"legend":{"color":"independent","shape":"independent"}}
},
{"width":407.4,"height":296,
"title":{"text":"Data","font":"DejaVu Sans","fontSize":20.5,"fontWeight":"bold","baseline":"alphabetic","offset":-7,"color":"black","anchor":"middle"},
"data":{"name":"D"},
"mark":{"type":"point","filled":false,"shape":"circle","size":38,"strokeWidth":1.05,"color":"black","opacity":1},
"encoding":{
"x":{"field":"x","type":"quantitative","scale":{"domain":[-81,2132],"nice":false,"zero":false},"axis":{"title":"Index","values":[0,500,1000,1500,2000],"format":"d","labelFont":"DejaVu Sans","labelFontSize":16.5,"labelBaseline":"alphabetic","labelPadding":16.2,"tickSize":4.5,"titleFont":"DejaVu Sans","titleFontSize":17,"titleBaseline":"alphabetic","titleY":42.4}},
"y":{"field":"y","type":"quantitative","scale":{"domain":[-0.041,3.004],"nice":false,"zero":false},"axis":{"title":"y","values":[0,0.5,1,1.5,2,2.5],"format":".1f","labelFont":"Liberation Sans","labelFontSize":15.5,"labelAngle":-90,"labelAlign":"center","labelBaseline":"alphabetic","labelPadding":9.9,"tickSize":6.7,"titleFont":"Liberation Sans","titleFontSize":17,"titleAngle":-90,"titleAlign":"center","titleBaseline":"alphabetic","titleX":-47,"titleY":148}}
}}
],
"spacing":27,"center":true
}
